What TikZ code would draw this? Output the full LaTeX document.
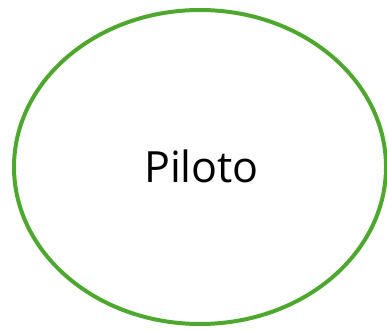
\documentclass[tikz,border=0pt]{standalone}
\usepackage{fontspec}
\setmainfont{Open Sans}
\usetikzlibrary{shapes.geometric}
\definecolor{ovalgreen}{HTML}{4EA72E}
\tikzset{
  oval/.style={ellipse, draw=ovalgreen, line width=4pt, minimum width=372pt, minimum height=314pt, inner sep=0pt},
  lbl/.style={font=\fontsize{43pt}{50pt}\selectfont, text=black, inner sep=0pt}
}
\begin{document}
\begin{tikzpicture}[x=1pt,y=1pt]
\useasboundingbox (0,0) rectangle (387,330);
\node[oval] (e) at (200,163) {};
\node[lbl, anchor=base] (t) at (201.5,148) {Piloto};
\end{tikzpicture}
\end{document}
